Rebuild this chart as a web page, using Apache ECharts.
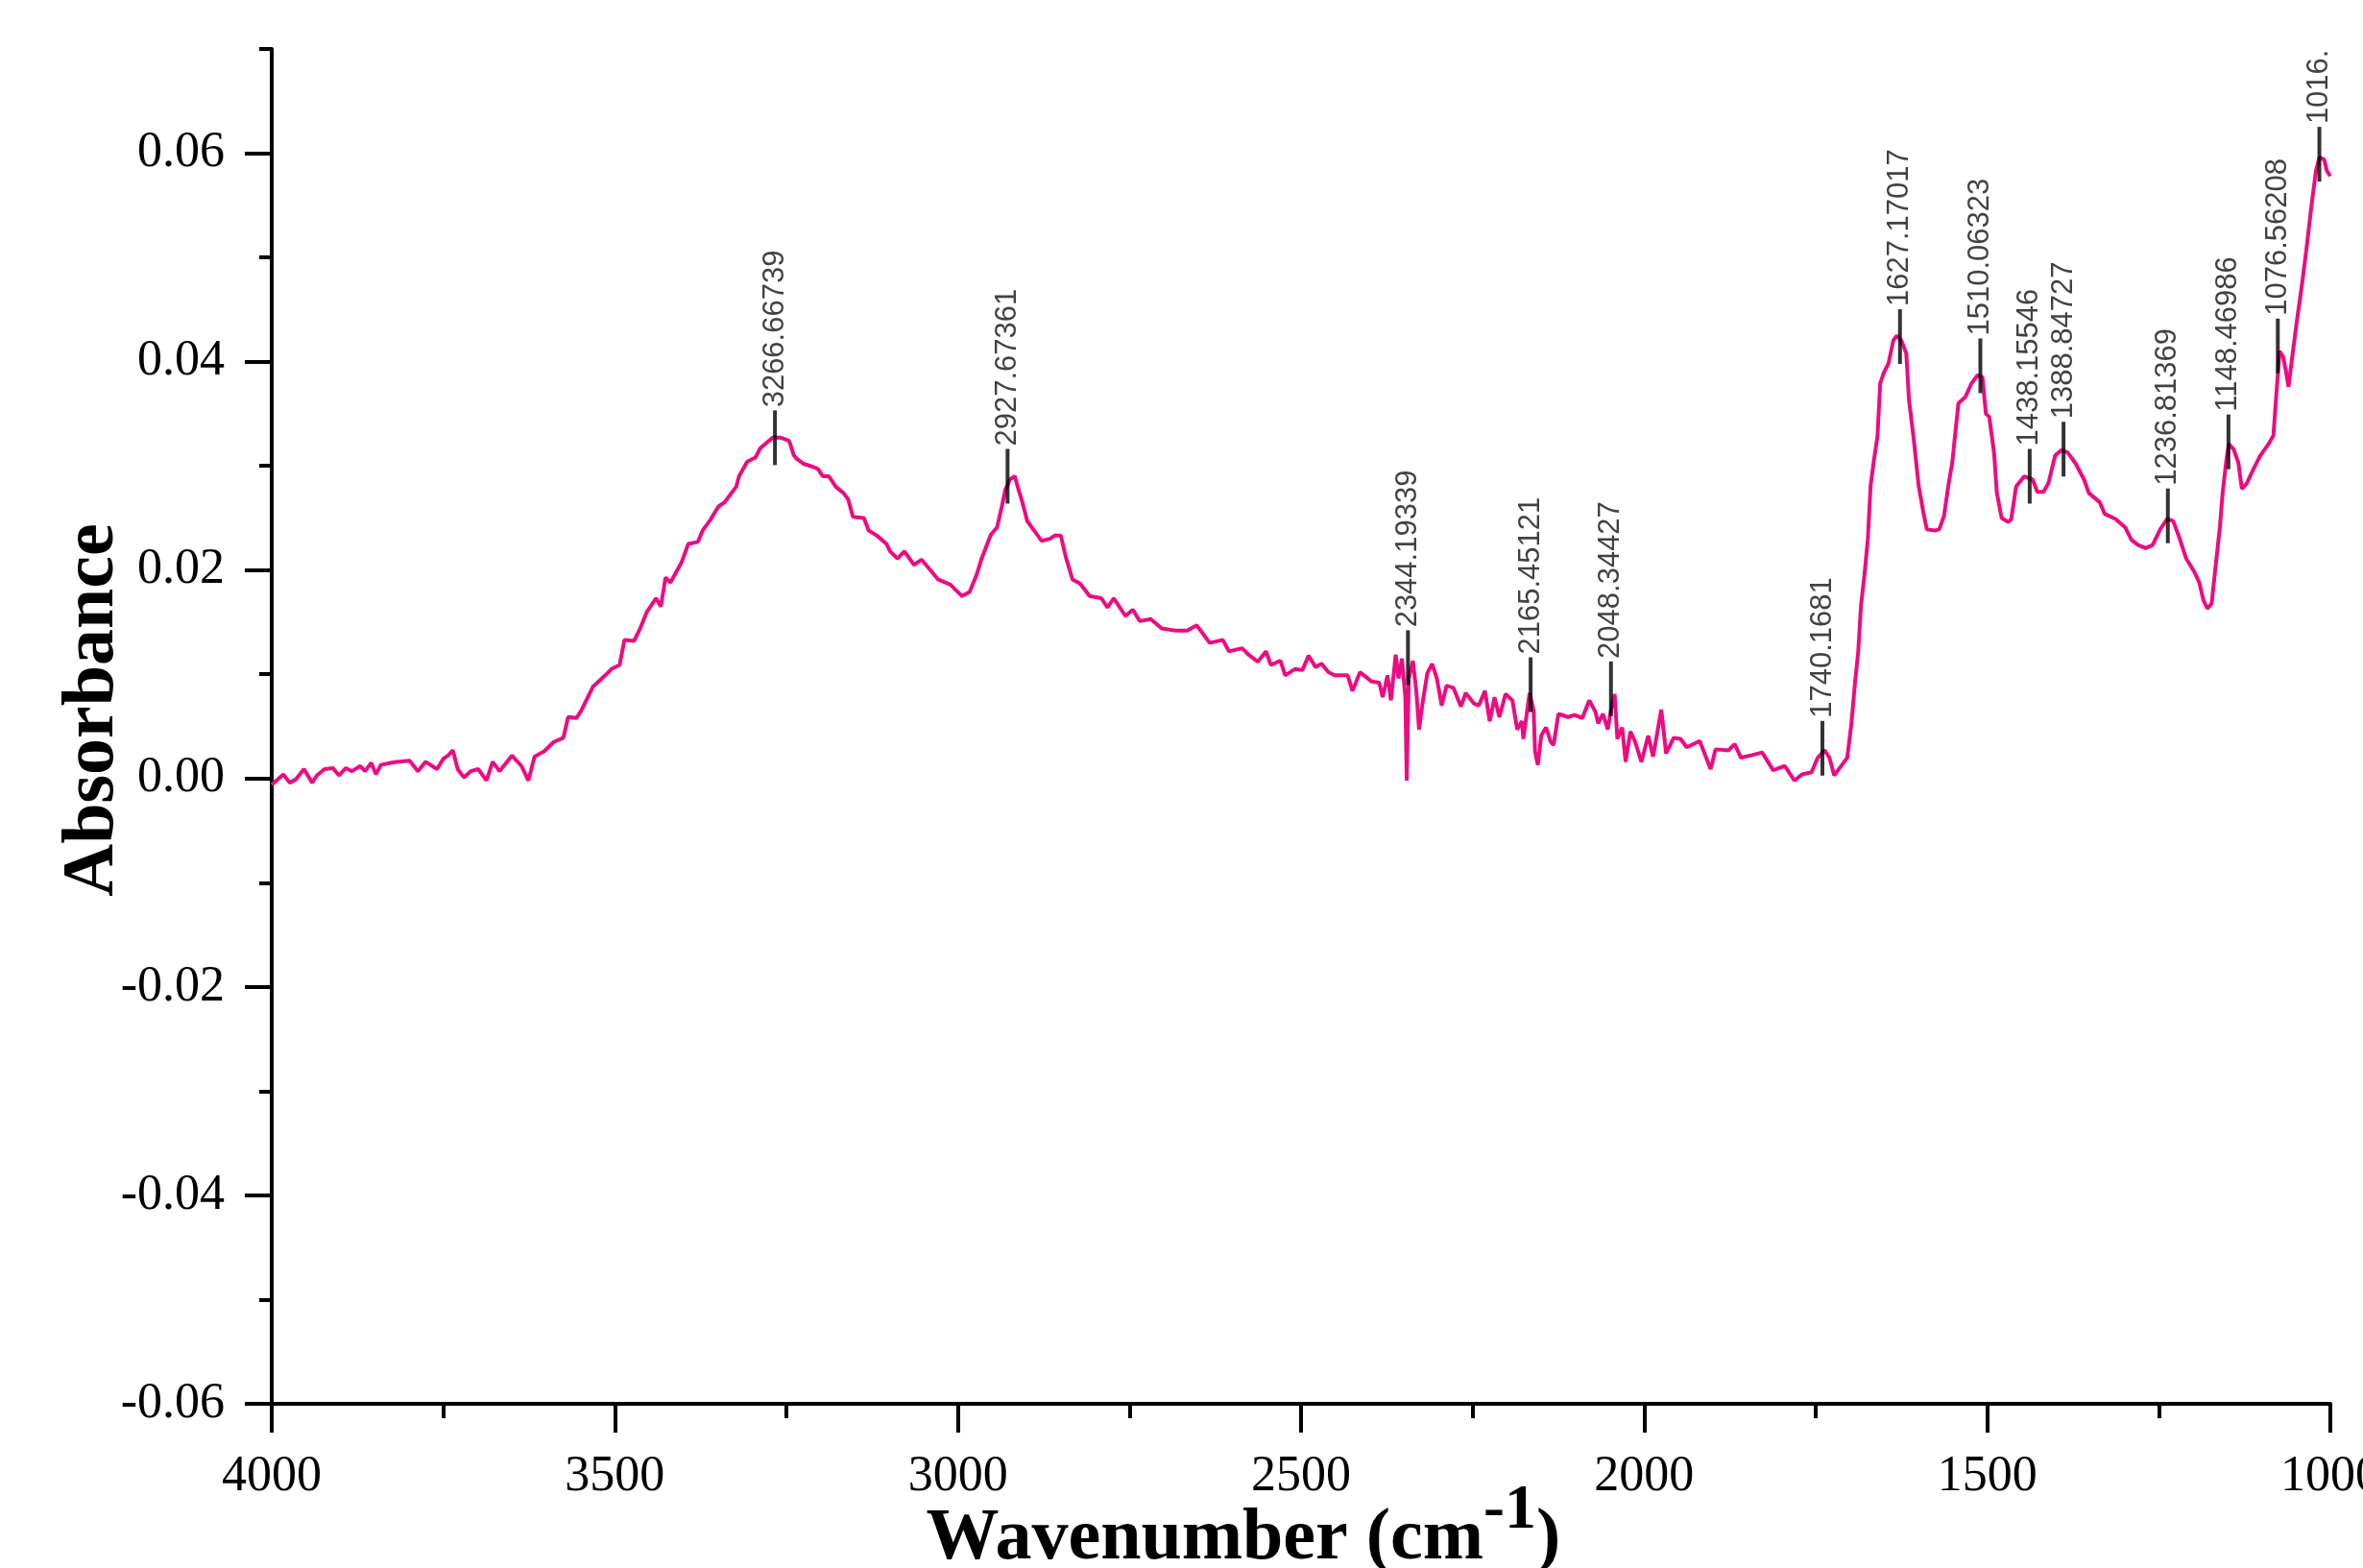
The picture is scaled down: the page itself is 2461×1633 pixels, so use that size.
<!DOCTYPE html>
<html>
<head>
<meta charset="utf-8">
<title>FTIR spectrum</title>
<script src="https://cdn.jsdelivr.net/npm/echarts@6/dist/echarts.min.js"></script>
<style>
  html, body { margin: 0; padding: 0; background: #ffffff; }
  #chart { width: 2461px; height: 1633px; }
</style>
</head>
<body>
<div id="chart"></div>
<script>
// Absorbance spectrum: [wavenumber (cm-1), absorbance]
const spectrum = [
  [4000,-0.0006],[3983,0.0004],[3974,-0.0004],[3965,-0.0001],[3953,0.0009],[3941,-0.0004],[3934,0.0003],[3923,0.0009],
  [3911,0.0010],[3902,0.0003],[3892,0.0010],[3883,0.0007],[3871,0.0012],[3864,0.0007],[3855,0.0015],[3848,0.0004],
  [3841,0.0013],[3827,0.0015],[3818,0.0016],[3799,0.0017],[3787,0.0007],[3776,0.0016],[3759,0.0009],[3750,0.0019],
  [3743,0.0022],[3736,0.0027],[3729,0.0009],[3720,0.0001],[3710,0.0007],[3699,0.0009],[3687,-0.0002],[3678,0.0016],
  [3668,0.0007],[3650,0.0022],[3636,0.0012],[3626,-0.0002],[3617,0.0021],[3603,0.0026],[3589,0.0035],[3575,0.0039],
  [3568,0.0059],[3556,0.0058],[3549,0.0065],[3532,0.0088],[3514,0.0099],[3505,0.0105],[3493,0.0109],[3486,0.0133],
  [3472,0.0132],[3463,0.0144],[3454,0.0159],[3440,0.0173],[3433,0.0165],[3426,0.0193],[3419,0.0188],[3403,0.0207],
  [3393,0.0225],[3379,0.0227],[3372,0.0238],[3361,0.0248],[3349,0.0261],[3340,0.0265],[3330,0.0274],[3323,0.0280],
  [3319,0.0290],[3307,0.0304],[3295,0.0308],[3288,0.0317],[3279,0.0322],[3270,0.0327],[3258,0.0327],[3246,0.0324],
  [3239,0.0310],[3235,0.0307],[3225,0.0302],[3211,0.0299],[3204,0.0297],[3197,0.0290],[3188,0.0290],[3178,0.0280],
  [3167,0.0274],[3160,0.0268],[3153,0.0251],[3137,0.0250],[3130,0.0238],[3118,0.0233],[3104,0.0225],[3099,0.0218],
  [3088,0.0211],[3078,0.0218],[3064,0.0205],[3053,0.0210],[3039,0.0199],[3029,0.0191],[3011,0.0186],[2994,0.0175],
  [2983,0.0179],[2973,0.0195],[2966,0.0210],[2959,0.0222],[2952,0.0234],[2943,0.0241],[2936,0.0261],[2931,0.0277],
  [2924,0.0287],[2917,0.0290],[2913,0.0280],[2906,0.0265],[2899,0.0247],[2889,0.0238],[2878,0.0228],[2866,0.0230],
  [2859,0.0233],[2850,0.0233],[2843,0.0213],[2833,0.0191],[2822,0.0187],[2808,0.0175],[2791,0.0173],[2782,0.0164],
  [2773,0.0173],[2756,0.0156],[2745,0.0162],[2735,0.0151],[2719,0.0153],[2703,0.0144],[2684,0.0142],[2666,0.0142],
  [2652,0.0147],[2633,0.0130],[2614,0.0133],[2605,0.0122],[2586,0.0125],[2575,0.0118],[2563,0.0112],[2551,0.0122],
  [2544,0.0109],[2530,0.0113],[2523,0.0099],[2509,0.0105],[2498,0.0104],[2489,0.0118],[2479,0.0107],[2470,0.0110],
  [2460,0.0102],[2451,0.0099],[2432,0.0099],[2425,0.0084],[2414,0.0102],[2397,0.0093],[2386,0.0092],[2381,0.0078],
  [2374,0.0099],[2369,0.0075],[2362,0.0119],[2358,0.0096],[2353,0.0115],[2348,0.0078],[2346,-0.0002],[2343,0.0096],
  [2337,0.0113],[2332,0.0084],[2328,0.0047],[2323,0.0072],[2316,0.0101],[2309,0.0110],[2302,0.0096],[2295,0.0070],
  [2288,0.0089],[2278,0.0087],[2267,0.0069],[2260,0.0082],[2248,0.0072],[2241,0.0070],[2232,0.0084],[2225,0.0055],
  [2218,0.0078],[2211,0.0059],[2202,0.0081],[2192,0.0075],[2185,0.0047],[2178,0.0055],[2176,0.0038],[2167,0.0082],
  [2161,0.0065],[2159,0.0026],[2155,0.0013],[2150,0.0041],[2143,0.0049],[2136,0.0035],[2132,0.0032],[2125,0.0062],
  [2111,0.0059],[2101,0.0061],[2090,0.0058],[2080,0.0075],[2071,0.0064],[2067,0.0053],[2060,0.0062],[2053,0.0047],
  [2048,0.0067],[2043,0.0081],[2039,0.0038],[2032,0.0049],[2027,0.0016],[2020,0.0045],[2013,0.0035],[2004,0.0016],
  [1994,0.0041],[1987,0.0021],[1975,0.0066],[1968,0.0024],[1957,0.0039],[1947,0.0038],[1938,0.0030],[1919,0.0036],
  [1903,0.0009],[1896,0.0028],[1877,0.0027],[1868,0.0033],[1859,0.0020],[1845,0.0022],[1828,0.0025],[1812,0.0008],
  [1795,0.0012],[1781,-0.0002],[1770,0.0004],[1756,0.0006],[1747,0.0020],[1737,0.0027],[1730,0.0020],[1723,0.0003],
  [1714,0.0011],[1704,0.0020],[1698,0.0052],[1693,0.0090],[1688,0.0122],[1684,0.0166],[1679,0.0195],[1674,0.0230],
  [1670,0.0281],[1665,0.0306],[1660,0.0328],[1656,0.0379],[1651,0.0389],[1644,0.0398],[1637,0.0420],[1632,0.0425],
  [1625,0.0420],[1618,0.0408],[1614,0.0363],[1607,0.0325],[1600,0.0281],[1593,0.0255],[1588,0.0239],[1576,0.0238],
  [1570,0.0239],[1563,0.0252],[1556,0.0284],[1551,0.0303],[1546,0.0335],[1542,0.0360],[1532,0.0366],[1523,0.0379],
  [1514,0.0387],[1507,0.0385],[1502,0.0350],[1497,0.0347],[1490,0.0312],[1486,0.0274],[1479,0.0250],[1469,0.0246],
  [1465,0.0249],[1458,0.0280],[1446,0.0290],[1434,0.0287],[1427,0.0275],[1418,0.0275],[1411,0.0283],[1401,0.0310],
  [1392,0.0315],[1383,0.0313],[1371,0.0302],[1359,0.0287],[1352,0.0274],[1336,0.0265],[1329,0.0254],[1313,0.0249],
  [1299,0.0241],[1290,0.0229],[1280,0.0224],[1269,0.0221],[1259,0.0224],[1248,0.0239],[1238,0.0249],[1229,0.0247],
  [1220,0.0231],[1210,0.0211],[1198,0.0198],[1191,0.0188],[1185,0.0171],[1179,0.0163],[1173,0.0168],[1166,0.0211],
  [1161,0.0241],[1157,0.0274],[1152,0.0303],[1148,0.0321],[1141,0.0316],[1134,0.0303],[1129,0.0278],[1122,0.0283],
  [1112,0.0297],[1102,0.0310],[1091,0.0320],[1083,0.0329],[1079,0.0366],[1074,0.0410],[1069,0.0405],[1065,0.0392],
  [1061,0.0376],[1056,0.0402],[1049,0.0438],[1042,0.0471],[1035,0.0507],[1028,0.0547],[1021,0.0583],[1016,0.0596],
  [1009,0.0594],[1005,0.0583],[1000,0.0578]
];

// Picked peaks: position, absorbance at the marker, printed label
const peakWavenumbers = [3266.66739, 2927.67361, 2344.19339, 2165.45121, 2048.34427, 1740.1681,
  1627.17017, 1510.06323, 1438.15546, 1388.84727, 1236.81369, 1148.46986, 1076.56208, 1016];
const peakAbsorbance = [0.0327, 0.0290, 0.0116, 0.0090, 0.0086, 0.0029,
  0.0424, 0.0396, 0.0290, 0.0316, 0.0252, 0.0323, 0.0415, 0.0599];
const peakLabels = ['3266.66739', '2927.67361', '2344.19339', '2165.45121', '2048.34427', '1740.1681',
  '1627.17017', '1510.06323', '1438.15546', '1388.84727', '1236.81369', '1148.46986', '1076.56208', '1016.'];

// Axis ticks
const yMajorTicks = [-0.06, -0.04, -0.02, 0.00, 0.02, 0.04, 0.06];
const xRange = [1000, 4000];
const yRange = [-0.06, 0.07];

const SERIF = '"Liberation Serif", "Times New Roman", Times, serif';
const SANS = '"Liberation Sans", Arial, sans-serif';
const INK = '#000000';
const TRACE = '#EC0C82';

const axisStroke = { color: INK, width: 4 };

const chart = echarts.init(document.getElementById('chart'), null, { renderer: 'canvas' });

chart.setOption({
  animation: false,
  backgroundColor: '#ffffff',
  grid: { left: 283, right: 34, top: 51, bottom: 171, containLabel: false, outerBoundsMode: 'none' },
  xAxis: {
    type: 'value',
    inverse: true,
    min: xRange[0],
    max: xRange[1],
    interval: 500,
    name: '{t|Wavenumber (cm}{s|-1}{t|)}',
    nameLocation: 'middle',
    nameGap: 101,
    nameMoveOverlap: false,
    nameTextStyle: {
      padding: [0, 120, 0, 0],
      rich: {
        t: { fontFamily: SERIF, fontWeight: 'bold', fontSize: 76, lineHeight: 80, color: INK },
        s: { fontFamily: SERIF, fontWeight: 'bold', fontSize: 66, lineHeight: 20, padding: [0, 0, 58, 0], color: INK }
      }
    },
    axisLine: { show: true, onZero: false, lineStyle: axisStroke },
    axisTick: { show: true, inside: false, length: 30, lineStyle: axisStroke },
    minorTick: { show: true, splitNumber: 2, length: 15, lineStyle: axisStroke },
    axisLabel: {
      formatter: (v) => String(v),
      fontFamily: SERIF, fontSize: 52, color: INK, margin: 50
    },
    splitLine: { show: false },
    minorSplitLine: { show: false }
  },
  yAxis: [
    {
      type: 'value',
      position: 'left',
      min: yRange[0],
      max: yRange[1],
      name: 'Absorbance',
      nameLocation: 'middle',
      nameRotate: 90,
      nameGap: 148,
      nameMoveOverlap: false,
      nameTextStyle: {
        fontFamily: SERIF, fontWeight: 'bold', fontSize: 76, color: INK,
        padding: [0, 0, 0, 34]
      },
      axisLine: { show: true, onZero: false, lineStyle: axisStroke },
      axisTick: { show: true, inside: false, length: 28, customValues: yMajorTicks, lineStyle: axisStroke },
      axisLabel: {
        customValues: yMajorTicks,
        formatter: (v) => Number(v).toFixed(2),
        fontFamily: SERIF, fontSize: 52, color: INK, margin: 49
      },
      splitLine: { show: false }
    },
    {
      // short ticks every 0.01
      type: 'value',
      position: 'left',
      min: yRange[0],
      max: yRange[1],
      interval: 0.01,
      axisLine: { show: false },
      axisTick: { show: true, inside: false, length: 13, lineStyle: axisStroke },
      axisLabel: { show: false },
      splitLine: { show: false }
    }
  ],
  series: [
    {
      type: 'line',
      data: spectrum,
      showSymbol: false,
      symbol: 'none',
      lineStyle: { color: TRACE, width: 4 },
      silent: true,
      z: 2
    },
    {
      type: 'scatter',
      data: peakWavenumbers.map((w, i) => [w, peakAbsorbance[i]]),
      symbol: 'rect',
      symbolSize: [4, 57],
      itemStyle: { color: INK },
      silent: true,
      clip: false,
      z: 3,
      label: {
        show: true,
        position: 'top',
        distance: 3,
        rotate: 90,
        align: 'left',
        verticalAlign: 'middle',
        formatter: (p) => peakLabels[p.dataIndex],
        fontFamily: SANS,
        fontSize: 31,
        color: '#111111'
      }
    }
  ]
});
</script>
</body>
</html>
